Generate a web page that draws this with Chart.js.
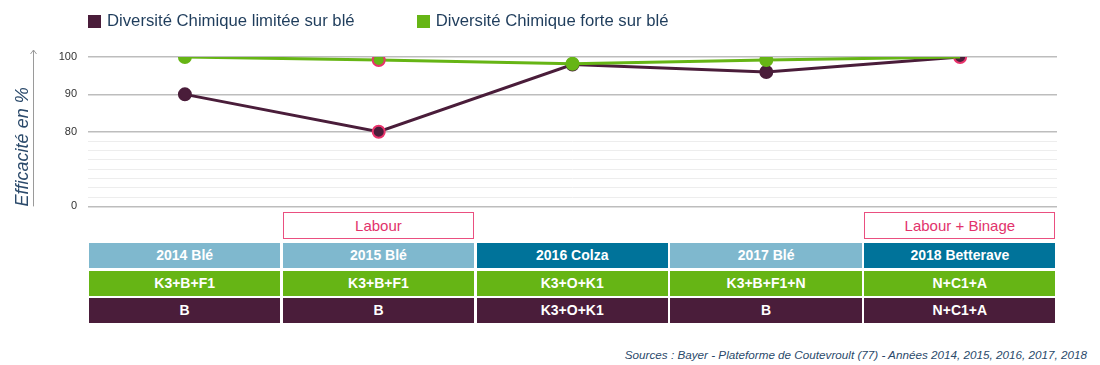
<!DOCTYPE html>
<html lang="fr">
<head>
<meta charset="utf-8">
<script src="https://cdn.jsdelivr.net/npm/chart.js@4.4.1/dist/chart.umd.min.js"></script>
<style>
  body { margin: 0; background: #fff; font-family: "Liberation Sans", Arial, sans-serif; }
  #wrap { position: relative; width: 1100px; height: 365px; overflow: hidden; }
  #legend { position: absolute; top: 11px; left: 88px; display: flex; align-items: center; font-size: 16.7px; color: #1f3d5c; }
  .leg-item { display: flex; align-items: center; margin-right: 62px; }
  .leg-box { width: 13px; height: 13px; margin-right: 6px; }
  #chartBox { position: absolute; left: 0; top: 0; width: 1100px; height: 224px; }
  .cell { position: absolute; height: 25px; line-height: 25px; text-align: center; color: #fff; font-weight: bold; font-size: 14px; }
  .work { position: absolute; height: 27px; line-height: 25px; text-align: center; color: #e2336c; font-size: 15px; border: 1.5px solid #ea4f80; box-sizing: border-box; background: #fff; }
  #source { position: absolute; right: 13px; top: 348px; font-size: 11.7px; font-style: italic; color: #2b4a6b; }
</style>
</head>
<body>
<div id="wrap">
  <div id="chartBox"><canvas id="efficaciteChart" width="1100" height="224"></canvas></div>
  <div id="legend"></div>
  <div id="table"></div>
  <div id="source">Sources : Bayer - Plateforme de Coutevroult (77) - Années 2014, 2015, 2016, 2017, 2018</div>
</div>
<script>
// data
const annees = ["2014 Blé", "2015 Blé", "2016 Colza", "2017 Blé", "2018 Betterave"];
const travailSol = ["", "Labour", "", "", "Labour + Binage"];
const programmeForte = ["K3+B+F1", "K3+B+F1", "K3+O+K1", "K3+B+F1+N", "N+C1+A"];
const programmeLimitee = ["B", "B", "K3+O+K1", "B", "N+C1+A"];
const efficaciteLimitee = [90, 80, 98, 96, 100];
const efficaciteForte = [100, 99.2, 98.2, 99.2, 100];
const yLabels = [0, 80, 90, 100];
const yMinor = [10, 20, 30, 40, 50, 60, 70];

// axis is broken: 0-80 compressed, 80-100 full size
function toAxis(v) {
    return v >= 80 ? 20 + (v - 80) : v / 4;
}
function fromAxis(a) {
    return a >= 20 ? 80 + (a - 20) : a * 4;
}

const violet = "#4a1d3a";
const vert = "#66b515";
const rose = "#e8336b";

function pointBorders(base, hl) {
    return annees.map((a, i) => (hl.includes(i) ? rose : base));
}

const arrowPlugin = {
    id: "arrow",
    afterDraw(chart) {
        const ctx = chart.ctx;
        const b = chart.chartArea.bottom;
        ctx.save();
        ctx.strokeStyle = "#9a9a9a";
        ctx.lineWidth = 1;
        ctx.beginPath();
        ctx.moveTo(33.5, b);
        ctx.lineTo(33.5, 50);
        ctx.moveTo(30.5, 54);
        ctx.lineTo(33.5, 50);
        ctx.lineTo(36.5, 54);
        ctx.stroke();
        ctx.restore();
    },
};

Chart.defaults.font.family = '"Liberation Sans", Arial, sans-serif';

const chart = new Chart(document.getElementById("efficaciteChart").getContext("2d"), {
    type: "line",
    data: {
        labels: annees,
        datasets: [
            {
                label: "Diversité Chimique limitée sur blé",
                data: efficaciteLimitee.map(toAxis),
                borderColor: violet,
                backgroundColor: violet,
                borderWidth: 3,
                pointRadius: 6,
                pointBackgroundColor: violet,
                pointBorderColor: pointBorders(violet, [1, 4]),
                pointBorderWidth: 2,
                order: 2,
            },
            {
                label: "Diversité Chimique forte sur blé",
                data: efficaciteForte.map(toAxis),
                borderColor: vert,
                backgroundColor: vert,
                borderWidth: 3,
                pointRadius: [6, 6, 6, 6, 0],
                pointBackgroundColor: vert,
                pointBorderColor: pointBorders(vert, [1]),
                pointBorderWidth: 2,
                order: 1,
            },
        ],
    },
    options: {
        responsive: false,
        animation: false,
        events: [],
        layout: { padding: { top: 57, right: 43, bottom: 1, left: 0 } },
        plugins: { legend: { display: false }, tooltip: { enabled: false } },
        scales: {
            x: { display: false, offset: true },
            y: {
                min: 0,
                max: 40,
                afterBuildTicks(scale) {
                    const vals = yLabels.concat(yMinor).map(toAxis).sort((a, b) => a - b);
                    scale.ticks = vals.map((v) => ({ value: v }));
                },
                afterFit(scale) {
                    scale.width = 88;
                },
                border: { display: false },
                grid: {
                    drawTicks: false,
                    color: (c) => (yLabels.includes(Math.round(fromAxis(c.tick.value))) ? "#bdbdbd" : "#ededed"),
                    lineWidth: (c) => (yLabels.includes(Math.round(fromAxis(c.tick.value))) ? 1.5 : 1),
                },
                ticks: {
                    autoSkip: false,
                    padding: 11,
                    color: "#333",
                    font: { size: 11 },
                    callback: (v) => {
                        const r = Math.round(fromAxis(v));
                        return yLabels.includes(r) ? String(r) : "";
                    },
                },
                title: {
                    display: true,
                    text: "Efficacité en %",
                    align: "start",
                    color: "#2b4a6b",
                    font: { size: 18, style: "italic" },
                    padding: { top: 12, bottom: 0 },
                },
            },
        },
    },
    plugins: [arrowPlugin],
});

// legend
const legend = document.getElementById("legend");
chart.data.datasets.forEach((ds) => {
    const item = document.createElement("div");
    item.className = "leg-item";
    item.innerHTML = '<span class="leg-box" style="background:' + ds.borderColor + '"></span>' + ds.label;
    legend.appendChild(item);
});

// table under the chart, aligned on the x scale
const table = document.getElementById("table");
const xs = chart.scales.x;
const slot = chart.chartArea.width / annees.length;
function addCell(cls, i, top, text, bg) {
    const d = document.createElement("div");
    d.className = cls;
    const cx = xs.getPixelForValue(i);
    d.style.left = cx - slot / 2 + 1 + "px";
    d.style.width = slot - 2.5 + "px";
    d.style.top = top + "px";
    if (bg) d.style.background = bg;
    d.textContent = text;
    table.appendChild(d);
}
annees.forEach((a, i) => {
    if (travailSol[i]) addCell("work", i, 212, travailSol[i]);
    addCell("cell", i, 243, a, a.includes("Blé") ? "#7fb8ce" : "#00739a");
    addCell("cell", i, 271, programmeForte[i], vert);
    addCell("cell", i, 298, programmeLimitee[i], "#4a1d3a");
});
</script>
</body>
</html>
